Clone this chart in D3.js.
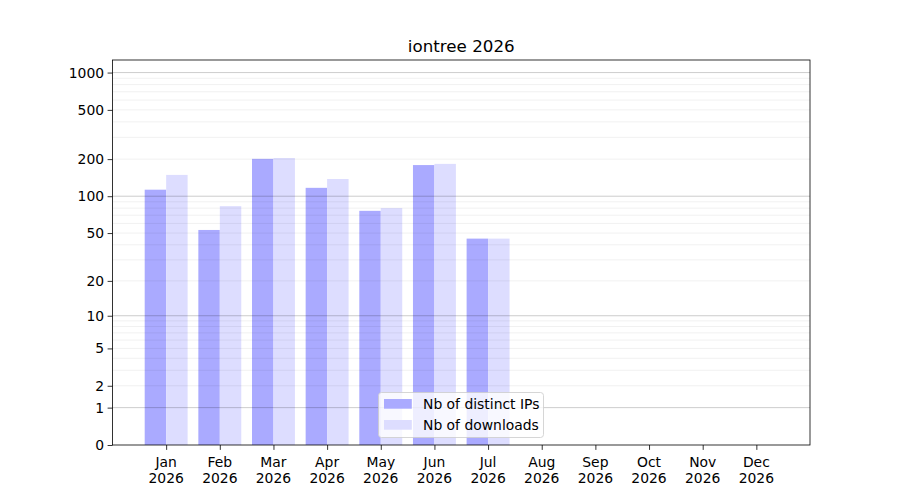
<!DOCTYPE html>
<html><head><meta charset="utf-8">
<script src="https://cdn.jsdelivr.net/npm/d3@7"></script>
<style>body{margin:0;background:#fff}svg{display:block}text{font-family:"DejaVu Sans",sans-serif;fill:#000}</style>
</head><body><svg id="c" width="900" height="500"></svg>
<script>
const months = ["Jan","Feb","Mar","Apr","May","Jun","Jul","Aug","Sep","Oct","Nov","Dec"];
const year = "2026";
const distinctIPs = [113,53,201,117,76,179,45,0,0,0,0,0];
const downloads   = [149,83,204,138,80,183,45,0,0,0,0,0];
const yTicks = [0,1,2,5,10,20,50,100,200,500,1000];
const majorGrid = [1,10,100,1000];
const minorGrid = [2,3,4,5,6,7,8,9,20,30,40,50,60,70,80,90,200,300,400,500,600,700,800,900];
const title = "iontree 2026";
const seriesNames = ["Nb of distinct IPs","Nb of downloads"];
const colors = ["#aaaaff","#ddddff"];

const svg = d3.select("#c");
const L=112.5, R=810, T=60, B=445;
const x = d3.scaleLinear().domain([-1,12]).range([L,R]);
const y = d3.scaleSymlog().constant(1).domain([0,1263]).range([B,T]);
const step = x(1)-x(0), bw = step*0.4;

const g = svg.append("g");
// bars
[distinctIPs, downloads].forEach((arr,si)=>{
  g.selectAll(null).data(arr).enter().append("rect")
    .attr("x",(d,i)=>x(i)+(si===0?-bw:0))
    .attr("width",bw)
    .attr("y",d=>y(d))
    .attr("height",d=>y(0)-y(d))
    .attr("fill",colors[si]);
});
// grid
g.selectAll(null).data(minorGrid).enter().append("line")
  .attr("x1",L).attr("x2",R).attr("y1",d=>y(d)).attr("y2",d=>y(d))
  .attr("stroke","rgba(0,0,0,0.08)").attr("stroke-width",0.8);
g.selectAll(null).data(majorGrid).enter().append("line")
  .attr("x1",L).attr("x2",R).attr("y1",d=>y(d)).attr("y2",d=>y(d))
  .attr("stroke","rgba(0,0,0,0.25)").attr("stroke-width",0.8);

// frame
svg.append("rect").attr("x",L).attr("y",T).attr("width",R-L).attr("height",B-T)
  .attr("fill","none").attr("stroke","#000").attr("stroke-width",0.8);

// y axis
const ya = svg.append("g").attr("transform",`translate(${L},0)`)
  .call(d3.axisLeft(y).tickValues(yTicks).tickFormat(d3.format("d")).tickSize(4.9).tickPadding(3.5));
ya.select(".domain").remove();
ya.selectAll("text").style("font-size","13.9px").attr("font-family","DejaVu Sans");
ya.selectAll("line").attr("stroke","#000").attr("stroke-width",0.8);

// x axis
const xa = svg.append("g").attr("transform",`translate(0,${B})`)
  .call(d3.axisBottom(x).tickValues(d3.range(12)).tickFormat("").tickSize(4.9));
xa.select(".domain").remove();
xa.selectAll("line").attr("stroke","#000").attr("stroke-width",0.8);
const xl = svg.append("g").selectAll("text").data(months).enter().append("text")
  .attr("x",(d,i)=>x(i)).attr("y",467).attr("text-anchor","middle").style("font-size","13.9px");
xl.append("tspan").attr("x",(d,i)=>x(i)).text(d=>d);
xl.append("tspan").attr("x",(d,i)=>x(i)).attr("dy",16).text(year);

// title
svg.append("text").attr("x",(L+R)/2).attr("y",52).attr("text-anchor","middle")
  .style("font-size","16.7px").text(title);

// legend
const lg = svg.append("g");
lg.append("rect").attr("x",378.5).attr("y",392.5).attr("width",165).attr("height",45).attr("rx",3)
  .attr("fill","rgba(255,255,255,0.8)").attr("stroke","#cccccc").attr("stroke-width",0.8);
seriesNames.forEach((n,i)=>{
  lg.append("rect").attr("x",384).attr("y",399+i*21).attr("width",27.8).attr("height",9.7).attr("fill",colors[i]);
  lg.append("text").attr("x",423).attr("y",409+i*21).style("font-size","13.9px").text(n);
});
</script></body></html>
